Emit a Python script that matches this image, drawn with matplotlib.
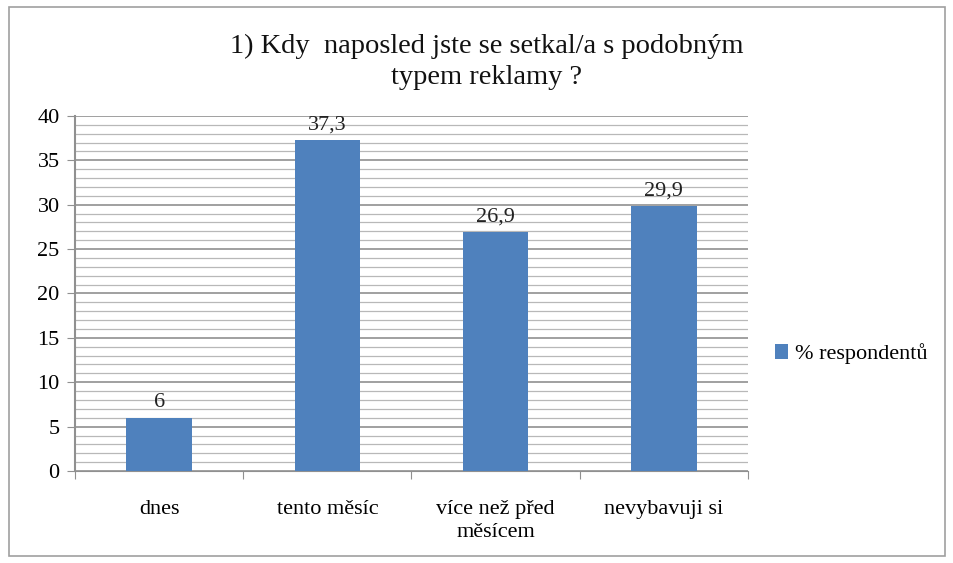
import matplotlib.pyplot as plt
from matplotlib.patches import Rectangle

plt.rcParams['font.family'] = ['Liberation Serif', 'DejaVu Serif']

# data
kategorie = ['dnes', 'tento měsíc', 'více než před\nměsícem', 'nevybavuji si']
hodnoty = [6, 37.3, 26.9, 29.9]
popisky = ['6', '37,3', '26,9', '29,9']

fig = plt.figure(figsize=(9.54, 5.63), dpi=100)
ax = fig.add_axes([0.0786, 0.1634, 0.7054, 0.6306])

x = range(len(kategorie))
bars = ax.bar(x, hodnoty, width=0.39, color='#4F81BD', zorder=3, label='% respondentů')

for b, t in zip(bars, popisky):
    ax.text(b.get_x() + b.get_width() / 2, b.get_height() + 0.6, t,
            ha='center', va='bottom', fontsize=16, color='#222222')

ax.set_xlim(-0.5, 3.5)
ax.set_ylim(0, 40)
ax.set_yticks(range(0, 41, 5))
ax.set_yticks(range(0, 41, 1), minor=True)
ax.yaxis.grid(True, which='major', color='#909090', lw=1.2, zorder=0)
ax.yaxis.grid(True, which='minor', color='#b8b8b8', lw=0.9, zorder=0)

ax.set_xticks([-0.5, 0.5, 1.5, 2.5, 3.5])
ax.set_xticklabels([])
ax.set_xticks(list(x), minor=True)
ax.set_xticklabels(kategorie, minor=True, fontsize=16, linespacing=1.25)
ax.tick_params(axis='x', which='minor', length=0, pad=21)
ax.tick_params(axis='x', which='major', length=6, color='#909090')
ax.tick_params(axis='y', which='major', length=6, color='#909090', labelsize=16, pad=5)
ax.tick_params(axis='y', which='minor', length=0)

for s in ['top', 'right']:
    ax.spines[s].set_visible(False)
ax.spines['left'].set_color('#909090')
ax.spines['bottom'].set_color('#909090')
ax.spines['left'].set_linewidth(1.5)

fig.text(0.51, 0.890, '1) Kdy  naposled jste se setkal/a s podobným\ntypem reklamy ?',
         ha='center', va='center', fontsize=20.5, linespacing=1.3, color='#111111')

ax.legend(loc='center left', bbox_to_anchor=(1.01, 0.33), frameon=False,
          fontsize=16, handlelength=0.6, handleheight=0.6, handletextpad=0.3)

fig.add_artist(Rectangle((0.009, 0.012), 0.982, 0.975, transform=fig.transFigure,
                         fill=False, edgecolor='#a0a0a0', lw=1.2))

fig.savefig('out.png', dpi=100)
